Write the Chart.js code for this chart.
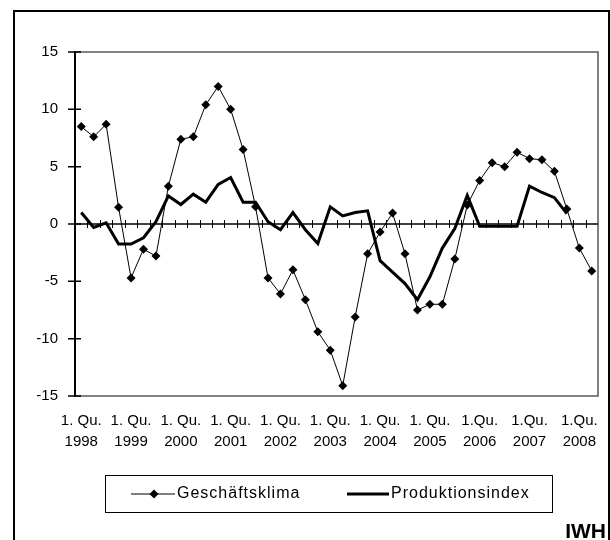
<!DOCTYPE html>
<html>
<head>
<meta charset="utf-8">
<script src="https://cdn.jsdelivr.net/npm/chart.js@4.4.0/dist/chart.umd.min.js"></script>
<style>
    body{margin:0;background:#fff;}
    #wrap{position:relative;width:610px;height:540px;overflow:hidden;}
    #rahmen{position:absolute;left:13px;top:10px;width:593px;height:600px;border:2px solid #000;}
    #grafik{position:absolute;left:0;top:0;}
</style>
</head>
<body>
<div id="wrap">
    <div id="rahmen"></div>
    <canvas id="grafik" width="610" height="540"></canvas>
</div>
<script>
// Jahre und Beschriftung der Achse (jeweils 1. Quartal)
var jahre = ['1998','1999','2000','2001','2002','2003','2004','2005','2006','2007','2008'];
var quText = ['1. Qu.','1. Qu.','1. Qu.','1. Qu.','1. Qu.','1. Qu.','1. Qu.','1. Qu.','1.Qu.','1.Qu.','1.Qu.'];

// Quartale 1998 Q1 bis 2008 Q2
var quartale = [];
for (var j = 0; j < jahre.length; j++) {
    for (var q = 1; q <= 4; q++) {
        if (jahre[j] === '2008' && q > 2) break;
        quartale.push(jahre[j] + ' Q' + q);
    }
}

var geschaeftsklima = [8.5, 7.6, 8.7, 1.45, -4.7, -2.2, -2.8, 3.3, 7.4, 7.6,
    10.4, 12.0, 10.0, 6.5, 1.5, -4.7, -6.1, -4.0, -6.6, -9.4,
    -11.0, -14.1, -8.1, -2.6, -0.7, 0.95, -2.6, -7.5, -7.0, -7.0,
    -3.05, 1.65, 3.8, 5.35, 5.0, 6.25, 5.7, 5.6, 4.6, 1.3,
    -2.1, -4.1];

var produktion = [1.0, -0.3, 0.1, -1.75, -1.75, -1.2, 0.2, 2.45, 1.7, 2.6,
    1.9, 3.45, 4.05, 1.9, 1.9, 0.2, -0.5, 1.0, -0.5, -1.7,
    1.5, 0.7, 1.0, 1.15, -3.2, -4.2, -5.2, -6.6, -4.6, -2.1,
    -0.4, 2.5, -0.2, -0.2, -0.2, -0.2, 3.3, 2.75, 2.3, 0.9,
    null, null];

var yTicks = [-15, -10, -5, 0, 5, 10, 15];

var schrift = '"Liberation Sans", Arial, sans-serif';

/**
 * Rahmen, Nulllinie mit Strichen, Legende und Quelle
 */
var rahmenPlugin = {
    id: 'rahmen',
    beforeDatasetsDraw: function(chart){
        var ctx = chart.ctx, a = chart.chartArea;
        var x = chart.scales.x, y = chart.scales.y;
        ctx.save();
        // Rahmen oben / rechts / unten
        ctx.strokeStyle = '#5a5a5a';
        ctx.lineWidth = 1.5;
        ctx.beginPath();
        ctx.moveTo(a.left, a.top);
        ctx.lineTo(a.right, a.top);
        ctx.lineTo(a.right, a.bottom);
        ctx.lineTo(a.left, a.bottom);
        ctx.stroke();
        // Nulllinie
        var y0 = y.getPixelForValue(0);
        ctx.strokeStyle = '#000';
        ctx.lineWidth = 1.5;
        ctx.beginPath();
        ctx.moveTo(a.left, y0);
        ctx.lineTo(a.right, y0);
        ctx.stroke();
        // Striche zwischen den Quartalen
        ctx.lineWidth = 1;
        ctx.beginPath();
        for (var i = 1; i < quartale.length; i++) {
            var px = Math.round((x.getPixelForValue(i - 1) + x.getPixelForValue(i)) / 2) + 0.5;
            ctx.moveTo(px, y0 - 4);
            ctx.lineTo(px, y0 + 4);
        }
        ctx.stroke();
        // Striche an der y-Achse
        ctx.lineWidth = 1.5;
        ctx.beginPath();
        for (var k = 0; k < yTicks.length; k++) {
            var py = y.getPixelForValue(yTicks[k]);
            ctx.moveTo(a.left - 7, py);
            ctx.lineTo(a.left + 6, py);
        }
        ctx.stroke();
        ctx.restore();
    },
    afterDraw: function(chart){
        var ctx = chart.ctx;
        ctx.save();
        ctx.strokeStyle = '#000';
        ctx.lineWidth = 1;
        ctx.strokeRect(105.5, 475.5, 447, 37);
        var ly = 494;
        // Geschaeftsklima
        ctx.beginPath();
        ctx.moveTo(131, ly);
        ctx.lineTo(175, ly);
        ctx.stroke();
        ctx.fillStyle = '#000';
        ctx.beginPath();
        ctx.moveTo(154, ly - 4.5);
        ctx.lineTo(158.5, ly);
        ctx.lineTo(154, ly + 4.5);
        ctx.lineTo(149.5, ly);
        ctx.closePath();
        ctx.fill();
        // Produktionsindex
        ctx.lineWidth = 3;
        ctx.beginPath();
        ctx.moveTo(347, ly);
        ctx.lineTo(389, ly);
        ctx.stroke();
        ctx.font = '16px ' + schrift;
        ctx.letterSpacing = '1px';
        ctx.textBaseline = 'middle';
        ctx.textAlign = 'left';
        ctx.fillText('Geschäftsklima', 177, ly);
        ctx.fillText('Produktionsindex', 391, ly);
        // Quelle
        ctx.letterSpacing = '0px';
        ctx.font = 'bold 21px ' + schrift;
        ctx.textBaseline = 'alphabetic';
        ctx.textAlign = 'right';
        ctx.fillText('IWH', 606, 538);
        ctx.restore();
    }
};

var ctx = document.getElementById('grafik').getContext('2d');
var grafik = new Chart(ctx, {
    type: 'line',
    data: {
        labels: quartale,
        datasets: [{
            label: 'Geschäftsklima',
            data: geschaeftsklima,
            borderColor: '#000',
            backgroundColor: '#000',
            borderWidth: 1,
            pointStyle: 'rectRot',
            pointRadius: 4.5,
            pointBorderWidth: 0,
            tension: 0
        }, {
            label: 'Produktionsindex',
            data: produktion,
            borderColor: '#000',
            backgroundColor: '#000',
            borderWidth: 3,
            pointRadius: 0,
            tension: 0,
            borderJoinStyle: 'miter'
        }]
    },
    options: {
        responsive: false,
        devicePixelRatio: 1,
        animation: false,
        layout: {
            padding: { left: 15, right: 12, top: 52, bottom: 84 }
        },
        plugins: {
            legend: { display: false },
            tooltip: { enabled: false }
        },
        scales: {
            x: {
                offset: true,
                grid: { display: false, drawTicks: false },
                border: { display: false },
                ticks: {
                    autoSkip: false,
                    maxRotation: 0,
                    minRotation: 0,
                    padding: 14,
                    color: '#000',
                    font: { family: schrift, size: 15, lineHeight: 1.4 },
                    callback: function(val, idx){
                        if (idx % 4 !== 0) return '';
                        return [quText[idx / 4], jahre[idx / 4]];
                    }
                },
                afterFit: function(s){ s.height = 60; }
            },
            y: {
                min: -15,
                max: 15,
                grid: { display: false, drawTicks: false },
                border: { display: true, color: '#000', width: 2 },
                ticks: {
                    stepSize: 5,
                    padding: 17,
                    color: '#000',
                    font: { family: schrift, size: 15 }
                },
                afterFit: function(s){ s.width = 60; }
            }
        }
    },
    plugins: [rahmenPlugin]
});
</script>
</body>
</html>
